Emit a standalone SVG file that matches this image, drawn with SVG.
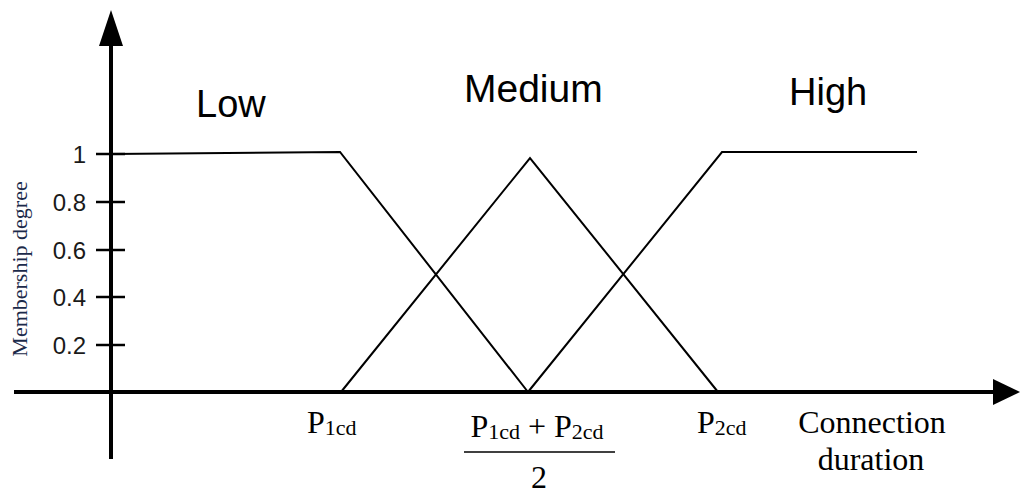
<svg xmlns="http://www.w3.org/2000/svg" width="1021" height="495" viewBox="0 0 1021 495">
<style>
.axis{stroke:#000;stroke-width:4;fill:none}
.tick{stroke:#000;stroke-width:2.5;fill:none}
.mf{stroke:#000;stroke-width:2;fill:none;stroke-linejoin:miter}
.lbl{font-family:"Liberation Sans",Arial,sans-serif;font-size:38px;fill:#000}
.num{font-family:"Liberation Sans",Arial,sans-serif;font-size:24px;fill:#1a1a1a;text-anchor:end}
.ser{font-family:"Liberation Serif","Times New Roman",serif;font-size:32px;fill:#000}
.sub{font-size:22px}
</style>
<rect width="1021" height="495" fill="#fff"/>
<g id="axes">
<line class="axis" x1="111" y1="40" x2="111" y2="459"/>
<polygon points="111,10 99,46 123,46" fill="#000"/>
<line class="axis" x1="14" y1="392" x2="996" y2="392"/>
<polygon points="1020,392 993,379 993,405" fill="#000"/>
<line class="tick" x1="96" y1="154" x2="125" y2="154"/>
<line class="tick" x1="96" y1="202" x2="125" y2="202"/>
<line class="tick" x1="96" y1="250" x2="125" y2="250"/>
<line class="tick" x1="96" y1="297" x2="125" y2="297"/>
<line class="tick" x1="96" y1="345" x2="125" y2="345"/>
<text class="num" x="86" y="163">1</text>
<text class="num" x="86" y="211">0.8</text>
<text class="num" x="86" y="259">0.6</text>
<text class="num" x="86" y="306">0.4</text>
<text class="num" x="86" y="354">0.2</text>
<text x="27" y="269" transform="rotate(-90 27 269)" text-anchor="middle" style="font-family:'Liberation Serif','Times New Roman',serif;font-size:22px;fill:#1b2a4a">Membership degree</text>
</g>
<g id="low">
<polyline class="mf" points="111,154 340,152 528,392"/>
<text class="lbl" x="196" y="117">Low</text>
</g>
<g id="medium">
<polyline class="mf" points="341,392 530,158 718,392"/>
<text class="lbl" x="464" y="102" style="font-size:39px">Medium</text>
</g>
<g id="high">
<polyline class="mf" points="528,392 722,152 917,152"/>
<text class="lbl" x="789" y="105">High</text>
</g>
<g id="xlabels">
<text class="ser" x="307" y="433">P<tspan class="sub" dy="2">1cd</tspan></text>
<text class="ser" x="537" y="437" text-anchor="middle">P<tspan class="sub" dy="2">1cd</tspan><tspan dy="-2"> + P</tspan><tspan class="sub" dy="2">2cd</tspan></text>
<line x1="464" y1="452" x2="615" y2="452" stroke="#000" stroke-width="1.5"/>
<text class="ser" x="539" y="488" text-anchor="middle">2</text>
<text class="ser" x="697" y="433">P<tspan class="sub" dy="2">2cd</tspan></text>
<text class="ser" x="872" y="433" text-anchor="middle">Connection</text>
<text class="ser" x="871" y="470" text-anchor="middle">duration</text>
</g>
</svg>
